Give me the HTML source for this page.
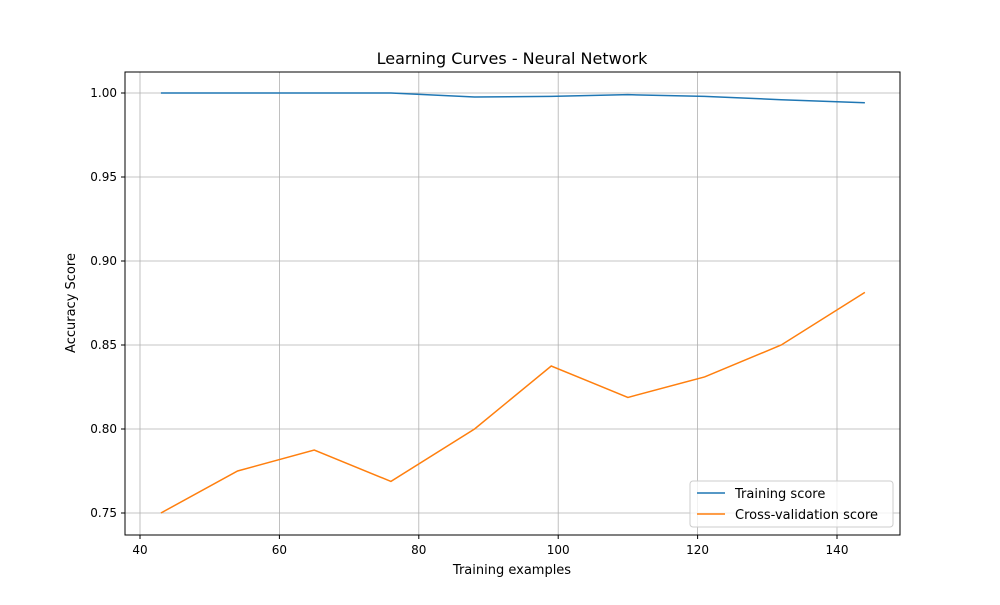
<!DOCTYPE html>
<html><head><meta charset="utf-8"><style>
body{margin:0;background:#fff;font-family:"Liberation Sans","DejaVu Sans",sans-serif}
</style></head><body>
<svg id="chart" width="1000" height="600" xmlns="http://www.w3.org/2000/svg" font-family="DejaVu Sans, Liberation Sans, sans-serif">
<rect width="1000" height="600" fill="#fff"/>
<text x="512" y="64" text-anchor="middle" font-size="16">Learning Curves - Neural Network</text>
<g id="grid"></g>
<g id="series"></g>
<rect x="125" y="72" width="775" height="463" fill="none" stroke="#000" stroke-width="1"/>
<g id="ticks" font-size="12"></g>
<text x="512" y="574" text-anchor="middle" font-size="13">Training examples</text>
<text transform="translate(75,303) rotate(-90)" text-anchor="middle" font-size="13">Accuracy Score</text>
<g>
<rect x="690" y="481" width="203" height="46" rx="3" fill="#fff" fill-opacity="0.8" stroke="#ccc"/>
<line x1="697" y1="493" x2="725" y2="493" stroke="#1f77b4" stroke-width="1.5"/>
<text x="735" y="498" font-size="13">Training score</text>
<line x1="697" y1="514" x2="725" y2="514" stroke="#ff7f0e" stroke-width="1.5"/>
<text x="735" y="519" font-size="13">Cross-validation score</text>
</g>
</svg>
<script>
const trainSizes=[43,54,65,76,88,99,110,121,132,144];
const trainScores=[1.0,1.0,1.0,1.0,0.9976,0.998,0.999,0.998,0.996,0.9942];
const cvScores=[0.75,0.775,0.7875,0.7688,0.80,0.8375,0.8188,0.831,0.85,0.8813];
const xTicks=[40,60,80,100,120,140];
const yTicks=[0.75,0.80,0.85,0.90,0.95,1.00];
const NS="http://www.w3.org/2000/svg";
function xs(v){return 140+(v-40)*(837-140)/100;}
function ys(v){return 513-(v-0.75)*(513-93)/0.25;}
const grid=document.getElementById('grid'),ticks=document.getElementById('ticks'),series=document.getElementById('series');
function mk(tag,attrs,parent){const e=document.createElementNS(NS,tag);for(const k in attrs)e.setAttribute(k,attrs[k]);parent.appendChild(e);return e;}
xTicks.forEach(t=>{const x=xs(t);
const g=mk('line',{x1:x,x2:x,y1:72,y2:535,stroke:'#b0b0b0','stroke-width':0.8},grid);


const tk=mk('line',{x1:x,x2:x,y1:535,y2:539,stroke:'#000'},ticks);


const tx=mk('text',{x:x,y:554,'text-anchor':'middle'},ticks);tx.textContent=t;

});
yTicks.forEach(t=>{const y=ys(t);
const g=mk('line',{x1:125,x2:900,y1:y,y2:y,stroke:'#b0b0b0','stroke-width':0.8},grid);


const tk=mk('line',{x1:121,x2:125,y1:y,y2:y,stroke:'#000'},ticks);


const tx=mk('text',{x:117,y:y+4,'text-anchor':'end'},ticks);tx.textContent=t.toFixed(2);

});
function line(vals,color,name){const p=mk('polyline',{points:trainSizes.map((s,i)=>xs(s)+','+ys(vals[i])).join(' '),fill:'none',stroke:color,'stroke-width':1.5},series);

}
line(trainScores,'#1f77b4','training-score-line');
line(cvScores,'#ff7f0e','cv-score-line');
</script>
</body></html>
